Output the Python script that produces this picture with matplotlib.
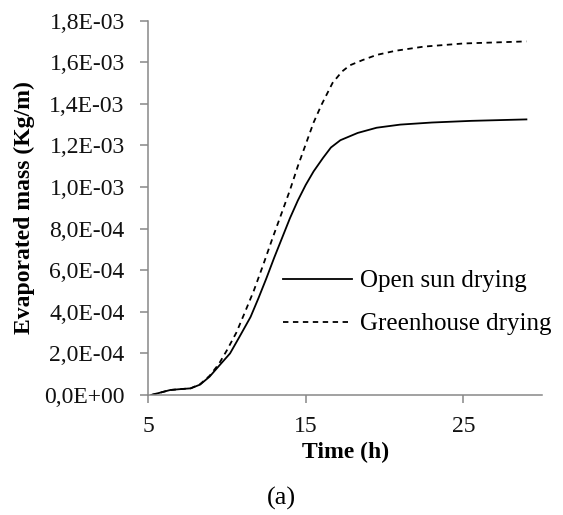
import numpy as np
from matplotlib import pyplot as plt

# time (h) and evaporated mass (x1E-03 Kg/m)
t_open = [5.2, 5.8, 6.4, 7.0, 7.7, 8.3, 8.9, 9.5, 10.2, 10.8, 11.5, 12.0, 12.5, 13.0,
          13.5, 14.0, 14.5, 15.0, 15.5, 16.1, 16.6, 17.2, 18.3, 19.5, 21.0, 23.0, 25.5, 29.0]
m_open = [0.0, 0.012, 0.024, 0.028, 0.032, 0.05, 0.088, 0.14, 0.20, 0.28, 0.375, 0.465, 0.56, 0.66,
          0.755, 0.85, 0.935, 1.01, 1.075, 1.14, 1.19, 1.225, 1.26, 1.285, 1.30, 1.31, 1.318, 1.325]

t_green = [5.2, 5.8, 6.4, 7.0, 7.7, 8.3, 8.9, 9.5, 10.0, 10.6, 11.1, 11.7, 12.3, 12.9, 13.5,
           14.0, 14.5, 15.0, 15.5, 16.0, 16.7, 17.3, 17.8, 18.6, 19.5, 20.7, 22.5, 25.0, 29.0]
m_green = [0.0, 0.012, 0.024, 0.028, 0.032, 0.052, 0.092, 0.15, 0.215, 0.30, 0.39, 0.50, 0.625, 0.755, 0.88,
           0.985, 1.10, 1.205, 1.31, 1.395, 1.50, 1.555, 1.585, 1.61, 1.635, 1.655, 1.675, 1.69, 1.70]

labels = ['Open sun drying', 'Greenhouse drying']
x_ticks = [5, 15, 25]
y_ticks = np.arange(0, 1.81e-3, 2e-4)

plt.rcParams['font.family'] = ['Liberation Serif', 'DejaVu Serif']

fig = plt.figure(figsize=(5.63, 5.15), dpi=100)
ax = fig.add_axes([0.263, 0.233, 0.7, 0.727])

ax.plot(t_open, np.array(m_open) * 1e-3, color='black', lw=1.3, label=labels[0])
ax.plot(t_green, np.array(m_green) * 1e-3, color='black', lw=1.3,
        linestyle=(0, (3, 2.5)), label=labels[1])

ax.set_xlim(5, 30)
ax.set_ylim(0, 1.8e-3)
ax.set_xticks(x_ticks)
ax.set_yticks(y_ticks)
ax.set_yticklabels([('%.1E' % v).replace('.', ',') for v in y_ticks])

for s in ['top', 'right']:
    ax.spines[s].set_visible(False)
for s in ['left', 'bottom']:
    ax.spines[s].set_color('#888888')
    ax.spines[s].set_linewidth(1.1)
ax.tick_params(axis='both', colors='#888888', labelcolor='#111111', labelsize=17,
               length=5.8, width=1.1)
ax.tick_params(axis='y', pad=11)
ax.tick_params(axis='x', pad=9)

ax.set_xlabel('Time (h)', fontsize=17, fontweight='bold', labelpad=4)
ax.set_ylabel('Evaporated mass (Kg/m)', fontsize=17, fontweight='bold', labelpad=7)

ax.legend(frameon=False, loc='upper left', bbox_to_anchor=(0.343, 0.334),
          fontsize=18, handlelength=2.76, handletextpad=0.32, labelspacing=0.82,
          borderpad=0, borderaxespad=0)

fig.text(0.5, 0.02, '(a)', ha='center', fontsize=19)

fig.savefig('out.png', dpi=100)
